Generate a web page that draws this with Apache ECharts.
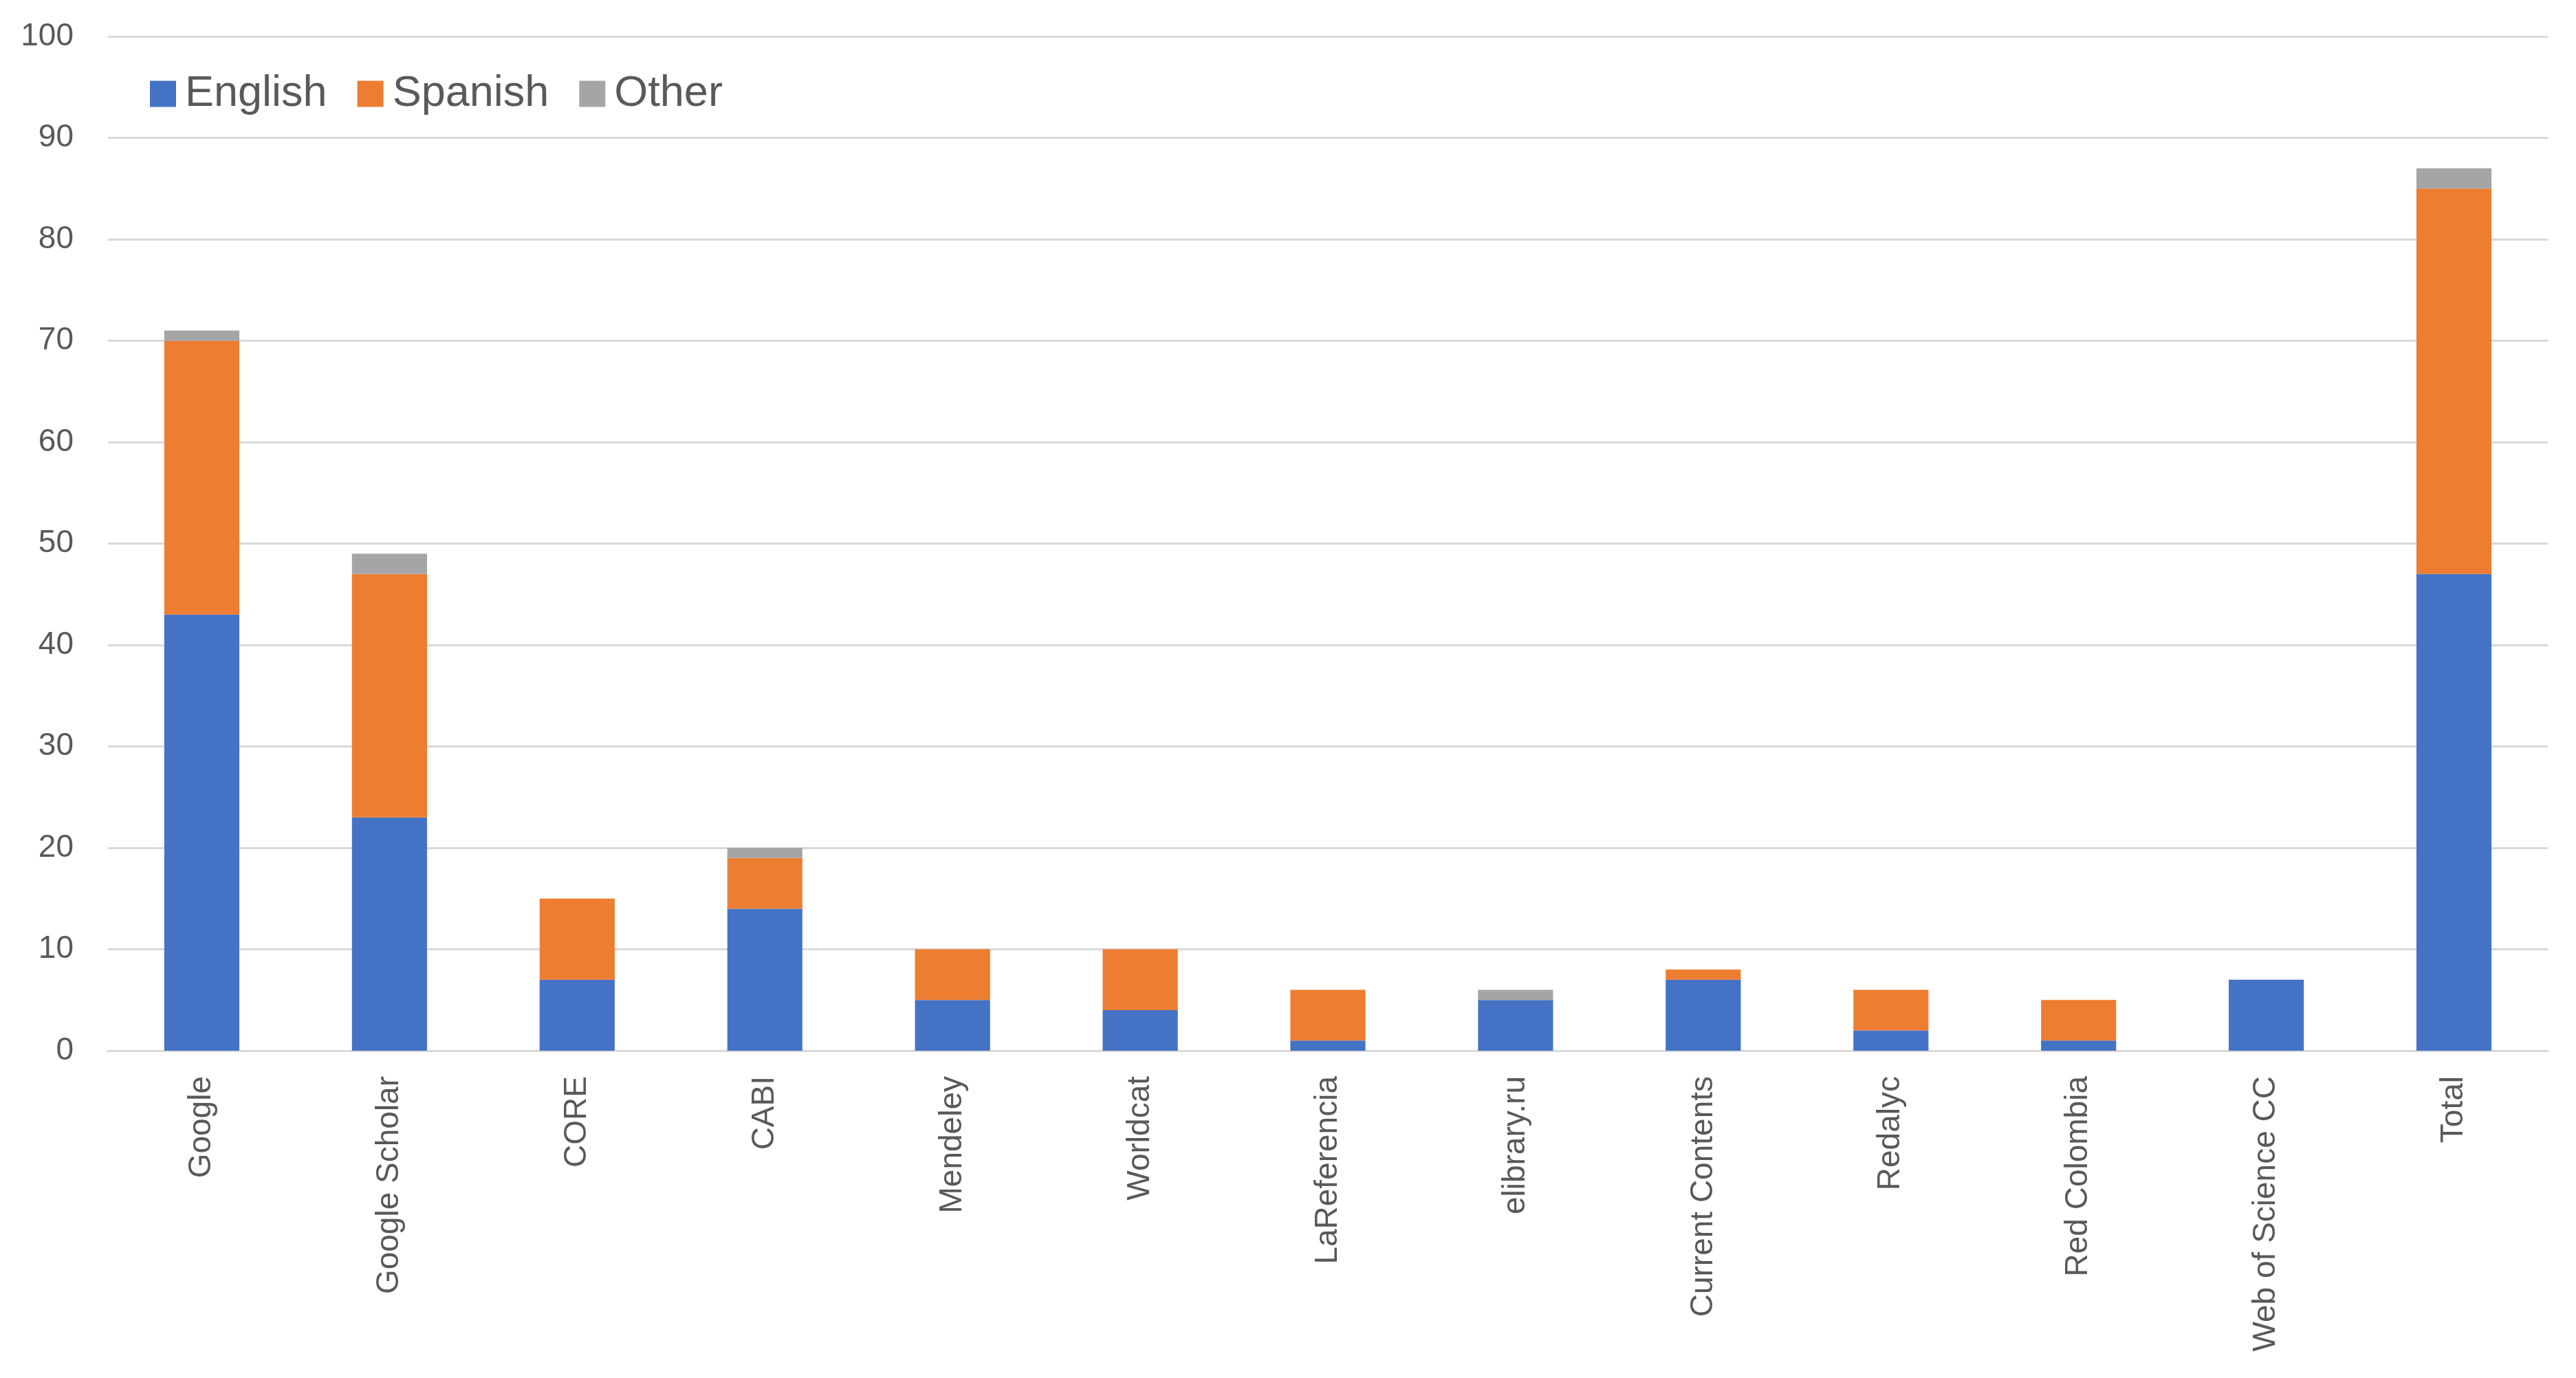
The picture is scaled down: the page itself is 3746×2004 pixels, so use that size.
<!DOCTYPE html>
<html>
<head>
<meta charset="utf-8">
<script src="https://cdn.jsdelivr.net/npm/echarts@6/dist/echarts.min.js"></script>
<style>html,body{margin:0;padding:0;background:#fff}#c{width:3746px;height:2004px}</style>
</head>
<body>
<div id="c"></div>
<script>
const categories = ["Google","Google Scholar","CORE","CABI","Mendeley","Worldcat","LaReferencia","elibrary.ru","Current Contents","Redalyc","Red Colombia","Web of Science CC","Total"];
const english = [43,23,7,14,5,4,1,5,7,2,1,7,47];
const spanish = [27,24,8,5,5,6,5,0,1,4,4,0,38];
const other   = [1,2,0,1,0,0,0,1,0,0,0,0,2];
const yTicks = {min:0, max:100, interval:10};

const chart = echarts.init(document.getElementById('c'));
const font = 'Liberation Sans, Arial, sans-serif';
const mk = (name, data, color) => ({
  name, type:'bar', stack:'total', data, barWidth:'40%',
  itemStyle:{color}, emphasis:{disabled:true}
});
chart.setOption({
  animation:false,
  backgroundColor:'#fff',
  legend:{
    left:213, top:100, itemWidth:38, itemHeight:38, itemGap:44,
    icon:'rect',
    textStyle:{fontFamily:font, fontSize:63, color:'#595959', padding:[0,0,0,8]},
    data:['English','Spanish','Other']
  },
  grid:{left:157, right:41, top:53, bottom:476, containLabel:false},
  xAxis:{
    type:'category', data:categories,
    axisTick:{show:false},
    axisLine:{lineStyle:{color:'#d9d9d9', width:3}},
    axisLabel:{rotate:90, margin:37, interval:0, fontFamily:font, fontSize:46, color:'#595959'}
  },
  yAxis:{
    type:'value', min:yTicks.min, max:yTicks.max, interval:yTicks.interval,
    axisLine:{show:false}, axisTick:{show:false},
    splitLine:{lineStyle:{color:'#d9d9d9', width:3}},
    axisLabel:{margin:50, fontFamily:font, fontSize:46, color:'#595959'}
  },
  series:[
    mk('English', english, '#4472C4'),
    mk('Spanish', spanish, '#ED7D31'),
    mk('Other', other, '#A5A5A5')
  ]
});
</script>
</body>
</html>
